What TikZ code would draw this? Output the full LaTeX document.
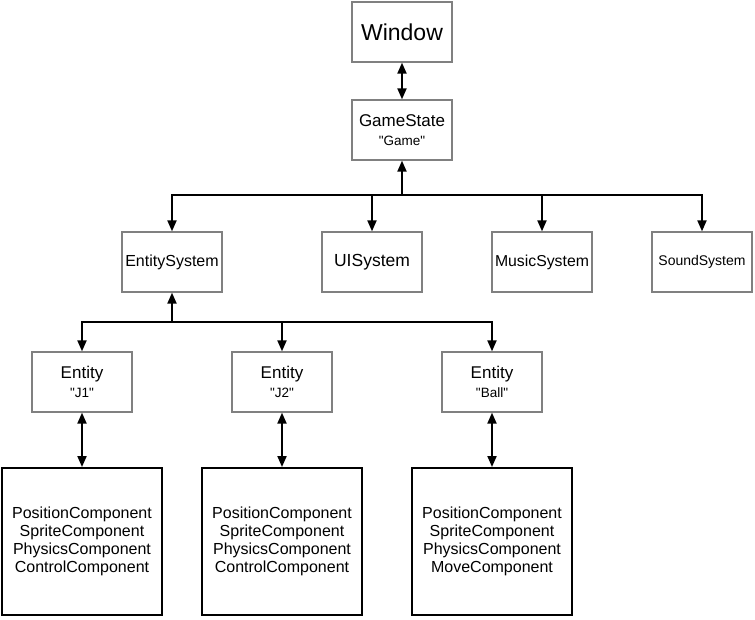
\documentclass[tikz,border=0pt]{standalone}
\usepackage{fontspec}
\setmainfont{Liberation Sans}
\newfontfamily\qfont{Liberation Sans}
\usetikzlibrary{arrows.meta}
\definecolor{boxgray}{HTML}{808080}
\newcommand{\qq}[1]{{\qfont\fontsize{13.5}{15}\selectfont"#1"}}
\begin{document}
\begin{tikzpicture}[x=1pt,y=-1pt,
  box/.style={draw=boxgray, line width=1.3pt, minimum width=100pt, minimum height=60pt, inner sep=0pt, align=center},
  comp/.style={draw=black, line width=2pt, minimum width=160pt, minimum height=147pt, inner sep=0pt, align=center, font=\fontsize{16}{18}\selectfont},
  tip/.tip={Triangle[length=11pt,width=9pt]},
  conn/.style={line width=2pt, -tip},
  dconn/.style={line width=2pt, tip-tip},
  big/.style={font=\fontsize{23}{27}\selectfont},
  two/.style={font=\fontsize{17}{18.5}\selectfont}]
\fill[white] (0,0) rectangle (755,619);
\useasboundingbox (0,0) rectangle (755,619);
% nodes
\node[box, big] (win) at (402,32) {Window};
\node[box, two] (gs) at (402,130) {GameState\\\qq{Game}};
\node[box, font=\fontsize{16}{18}\selectfont] (es) at (172,262) {EntitySystem};
\node[box, font=\fontsize{17.5}{20}\selectfont] (ui) at (372,262) {UISystem};
\node[box, font=\fontsize{15.8}{18}\selectfont] (mu) at (542,262) {MusicSystem};
\node[box, font=\fontsize{14}{16}\selectfont] (so) at (702,262) {SoundSystem};
\node[box, two] (e1) at (82,382) {Entity\\\qq{J1}};
\node[box, two] (e2) at (282,382) {Entity\\\qq{J2}};
\node[box, two] (e3) at (492,382) {Entity\\\qq{Ball}};
\node[comp] (c1) at (82,541.5) {PositionComponent\\SpriteComponent\\PhysicsComponent\\ControlComponent};
\node[comp] (c2) at (282,541.5) {PositionComponent\\SpriteComponent\\PhysicsComponent\\ControlComponent};
\node[comp] (c3) at (492,541.5) {PositionComponent\\SpriteComponent\\PhysicsComponent\\MoveComponent};
% connectors
\draw[dconn] (win) -- (gs);
\coordinate (bus1) at (402,195);
\draw[conn] (bus1) -- (gs.south);
\draw[conn] (bus1) -| (es.north);
\draw[conn] (bus1) -| (ui.north);
\draw[conn] (bus1) -| (mu.north);
\draw[conn] (bus1) -| (so.north);
\coordinate (bus2) at (172,322);
\draw[conn] (bus2) -- (es.south);
\draw[conn] (bus2) -| (e1.north);
\draw[conn] (bus2) -| (e2.north);
\draw[conn] (bus2) -| (e3.north);
\draw[dconn] (e1) -- (c1);
\draw[dconn] (e2) -- (c2);
\draw[dconn] (e3) -- (c3);
\end{tikzpicture}
\end{document}
